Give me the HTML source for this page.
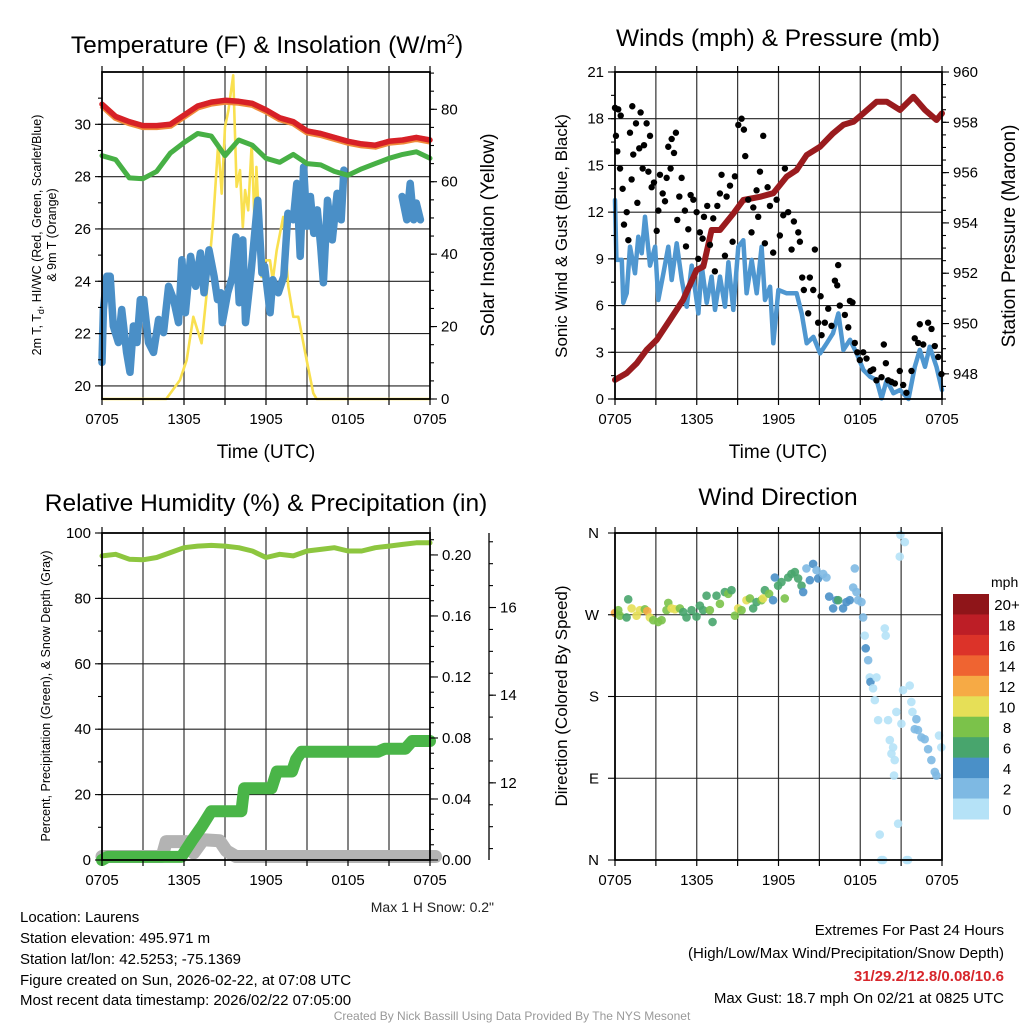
<!DOCTYPE html>
<html><head><meta charset="utf-8"><style>
html,body{margin:0;padding:0;background:#fff;}
svg{display:block;font-family:"Liberation Sans",Arial,sans-serif;}
</style></head><body>
<svg id="fig" width="1024" height="1024" viewBox="0 0 1024 1024" xmlns="http://www.w3.org/2000/svg">
<rect width="1024" height="1024" fill="#fff"/>
<g id="layer"></g>
<text x="267" y="53" font-size="24.5" text-anchor="middle">Temperature (F) &amp; Insolation (W/m<tspan dy="-9" font-size="15">2</tspan><tspan dy="9">)</tspan></text>
<text x="778" y="46" font-size="24.5" text-anchor="middle">Winds (mph) &amp; Pressure (mb)</text>
<text x="266" y="511" font-size="24.5" text-anchor="middle">Relative Humidity (%) &amp; Precipitation (in)</text>
<text x="778" y="505" font-size="24.5" text-anchor="middle">Wind Direction</text>
<text transform="translate(41,235) rotate(-90)" font-size="12.5" text-anchor="middle">2m T, T<tspan font-size="9" dy="3">d</tspan><tspan dy="-3">, HI/WC (Red, Green, Scarlet/Blue)</tspan></text>
<text transform="translate(56,235) rotate(-90)" font-size="12.5" text-anchor="middle">&amp; 9m T (Orange)</text>
<text transform="translate(494,235) rotate(-90)" font-size="19" text-anchor="middle">Solar Insolation (Yellow)</text>
<text x="266" y="458" font-size="19" text-anchor="middle">Time (UTC)</text>
<text x="778" y="458" font-size="19" text-anchor="middle">Time (UTC)</text>
<text transform="translate(567,236) rotate(-90)" font-size="17" text-anchor="middle">Sonic Wind &amp; Gust (Blue, Black)</text>
<text transform="translate(1015,236) rotate(-90)" font-size="19" text-anchor="middle">Station Pressure (Maroon)</text>
<text transform="translate(50,696) rotate(-90)" font-size="12.5" text-anchor="middle">Percent, Precipitation (Green), &amp; Snow Depth (Gray)</text>
<text transform="translate(567,696) rotate(-90)" font-size="17" text-anchor="middle">Direction (Colored By Speed)</text>
<text x="494" y="912" font-size="14" text-anchor="end" fill="#222">Max 1 H Snow: 0.2"</text>
<g font-size="15" fill="#000">
<text x="20" y="922">Location: Laurens</text>
<text x="20" y="943">Station elevation: 495.971 m</text>
<text x="20" y="964">Station lat/lon: 42.5253; -75.1369</text>
<text x="20" y="985">Figure created on Sun, 2026-02-22, at 07:08 UTC</text>
<text x="20" y="1005">Most recent data timestamp: 2026/02/22 07:05:00</text>
</g>
<g font-size="15" text-anchor="end">
<text x="1004" y="935">Extremes For Past 24 Hours</text>
<text x="1004" y="958">(High/Low/Max Wind/Precipitation/Snow Depth)</text>
<text x="1004" y="981" fill="#d7262b" font-weight="bold">31/29.2/12.8/0.08/10.6</text>
<text x="1004" y="1003">Max Gust: 18.7 mph On 02/21 at 0825 UTC</text>
</g>
<text x="512" y="1020" font-size="12" fill="#999" text-anchor="middle">Created By Nick Bassill Using Data Provided By The NYS Mesonet</text>
</svg>
<script>
// ---------- data ----------
const xTickLabels = ["0705","1305","1905","0105","0705"];
const hourlyTimes = [0,1,2,3,4,5,6,7,8,9,10,11,12,13,14,15,16,17,18,19,20,21,22,23,24];
const tempRed = [30.77,30.3,30.1,29.95,29.95,30.0,30.35,30.7,30.85,30.92,30.88,30.8,30.55,30.25,30.1,29.75,29.65,29.5,29.35,29.25,29.2,29.35,29.4,29.5,29.4];
const dewGreen = [28.8,28.65,27.95,27.92,28.2,28.9,29.3,29.65,29.55,28.8,29.4,29.2,28.7,28.55,28.85,28.5,28.45,28.2,28.05,28.3,28.5,28.7,28.85,28.95,28.7];
const solarTimes = [0,4.7,5.7,6.2,6.68,7.29,7.66,8.14,8.5,8.76,9.0,9.25,9.6,9.85,10.1,10.3,10.47,10.7,10.95,11.19,11.3,11.68,11.9,12.29,12.5,12.78,13.26,13.63,14.0,14.36,14.97,15.46,15.7,24];
const solarVals = [0,0,5.2,10.8,22.7,15.4,29.2,49.4,70.5,56.7,75.1,79.7,89.4,58.6,63.2,47.5,57.7,52.1,70.5,45.7,64.1,33.7,38.3,38.3,32.8,41.1,50.3,31,22.7,22.7,10.8,1.6,0,0];
const chillTimes = [0,0.1,0.35,0.6,0.83,1.2,1.44,1.8,2.05,2.3,2.56,2.8,3.05,3.4,3.77,4.14,4.5,4.87,5.24,5.6,5.85,6.1,6.48,6.85,7.2,7.46,7.83,8.2,8.45,8.7,8.8,9.2,9.55,9.8,10.04,10.3,10.5,10.9,11.4,11.7,11.9,12.3,12.5,12.9,13.3,13.6,14.0,14.25,14.5,14.75,15.0,15.25,15.5,15.75,16.0,16.2,16.5,16.85,17.2,17.5,17.7,null,21.96,22.3,22.55,22.8,23.0,23.3];
const chillVals = [20.9,22.92,24.19,24.19,22.29,21.66,22.92,21.28,20.52,22.29,21.66,23.3,23.3,21.66,21.28,22.54,22.04,23.81,23.3,22.42,24.82,22.8,24.95,23.81,25.08,23.56,25.2,24.19,23.3,23.56,22.42,23.56,24.19,25.7,23.18,25.58,22.42,24.32,27.1,24.32,24.57,22.8,24.06,23.56,24.19,26.6,26.35,27.74,24.95,28.37,26.1,27.24,25.83,26.73,25.33,23.94,27.1,25.58,27.36,26.35,28.25,null,27.24,26.35,27.74,26.35,26.99,26.35];
const presTimes = [0,0.86,1.59,2.32,3.06,4.04,5.0,5.99,6.48,7.09,7.71,8.7,9.42,10.64,11.62,12.6,13.33,14.07,15.05,16.0,16.76,17.5,18.23,19.2,19.94,20.92,21.9,22.75,23.6,24];
const presVals = [947.76,948.03,948.42,948.95,949.35,950.15,950.94,952.13,952.26,953.72,953.72,954.38,954.91,955.04,955.18,955.84,956.1,956.7,957.03,957.56,957.9,958.02,958.36,958.82,958.82,958.49,959.02,958.49,958.09,958.36];
const windTimes = [0,0.1,0.5,0.61,0.86,1.1,1.47,1.71,1.96,2.2,2.57,2.94,3.18,3.55,3.91,4.16,4.53,4.9,5.26,5.63,6.12,6.36,6.73,7.09,7.34,7.71,8.07,8.32,8.68,9.05,9.42,9.66,10.03,10.4,10.76,11.01,11.38,11.62,11.99,12.6,13.33,13.7,14.07,14.56,15.05,15.54,16.0,16.4,16.76,17.25,17.74,18.23,18.72,19.2,19.57,19.94,20.43,20.92,21.54,22.0,22.37,22.75,23.1,23.6,24];
const windVals = [12.78,8.93,8.93,6.18,6.79,9.78,8.07,10.42,9.36,11.71,8.57,9.78,6.36,8.07,9.78,7.64,10.0,7.64,5.93,8.57,5.5,8.57,6.18,7.86,5.72,7.86,5.93,8.78,5.72,9.78,10.2,6.79,8.93,6.79,9.78,6.36,7.21,3.58,7.0,6.79,6.79,5.5,3.58,3.99,2.93,3.58,4.22,5.5,3.15,3.8,2.93,1.86,1.43,1.22,0.04,1.22,0.37,0.58,0,2.07,3.15,2.07,3.36,2.07,0.58];
const gustTimes = [0,0.24,0.42,0.07,0.17,0.37,0.56,0.66,0.86,0.98,1.22,1.1,1.27,1.34,1.54,1.64,1.78,1.88,2.03,2.13,2.32,2.45,2.57,2.69,2.86,3.06,3.18,3.3,3.5,3.67,3.79,3.91,4.08,4.16,4.33,4.47,4.57,4.72,4.89,5.13,5.21,5.38,5.55,5.75,5.99,6.11,6.23,6.43,6.53,6.77,6.97,7.21,7.33,7.51,7.7,7.82,8.07,8.19,8.44,8.63,8.8,9.05,9.29,9.46,9.56,9.78,10.02,10.15,10.39,10.51,10.64,10.88,11.0,11.2,11.37,11.61,11.86,12.1,12.35,12.47,12.71,12.96,13.13,13.45,13.57,13.74,13.86,14.18,14.3,14.55,14.67,14.91,15.09,15.16,15.4,15.65,15.89,16.14,16.31,16.38,16.5,16.87,17.12,17.24,17.43,17.6,17.78,17.97,18.22,18.46,18.75,18.95,19.19,19.56,19.73,19.88,20.05,20.29,20.54,20.9,21.15,21.39,21.76,22.0,22.25,22.37,22.62,22.98,23.23,23.47,23.72,23.96];
const gustVals = [18.7,18.6,18.2,16.9,15.9,14.8,13.5,11.2,12.0,10.2,14.1,17.1,18.8,15.7,17.7,12.6,16.1,18.4,14.8,16.3,17.7,14.6,16.9,13.6,13.9,10.8,12.1,14.4,13.2,12.7,14.2,16.2,14.8,16.7,15.8,17.1,11.5,13.0,14.2,12.1,9.8,10.9,13.1,12.8,12.0,9.0,10.7,10.3,11.7,12.4,9.9,11.6,8.2,12.4,13.2,14.4,9.2,13.0,13.7,10.1,14.3,17.6,18.0,17.3,15.6,12.8,10.7,12.3,13.4,11.7,14.6,16.9,10.0,13.6,12.4,9.4,12.8,10.5,11.8,14.8,12.0,9.6,11.4,10.7,10.1,7.8,7.0,5.5,7.8,7.0,9.6,4.9,6.6,4.1,4.9,5.8,4.7,7.6,7.3,8.6,6.0,5.4,4.6,6.3,6.2,3.6,3.0,2.5,3.0,2.6,1.8,1.9,1.2,1.4,3.5,2.3,1.2,1.1,1.0,1.8,0.9,0.4,1.8,3.9,3.6,4.8,3.5,4.9,4.5,3.4,2.7,1.6];
const rhVals = [93,93.5,92,91.8,92.5,94,95.5,96,96.2,96,95.5,94.5,92.5,93.5,93,94.5,95,95.5,94.5,94.5,95.5,96,96.5,97,97];
const precipTimes = [0,0.4,5.8,6.6,7.3,8.0,10.2,10.4,12.4,12.8,13.9,14.2,14.6,20.2,20.7,22.2,22.7,24];
const precipVals = [0,0.002,0.002,0.013,0.022,0.032,0.032,0.047,0.047,0.058,0.058,0.066,0.071,0.071,0.073,0.073,0.078,0.078];
const snowTimes = [0,4.4,4.7,6.2,6.7,7.4,8.6,9.1,9.8,24.4];
const snowVals = [10.32,10.32,10.66,10.66,10.4,10.7,10.68,10.45,10.32,10.32];
const dirTimes = [0,0.24,0.36,0.97,0.85,1.22,1.58,1.83,2.19,2.37,2.56,2.81,3.17,3.42,3.78,3.91,4.15,4.4,4.76,5.01,5.25,5.62,5.98,6.23,6.47,6.72,6.96,7.16,7.45,7.7,8.06,8.31,8.55,8.8,9.04,9.29,9.65,9.9,10.14,10.39,10.75,10.87,11.0,11.31,11.6,11.73,11.97,12.22,12.46,12.71,12.95,13.2,13.44,13.69,13.81,14.05,14.3,14.54,14.79,14.91,15.28,15.52,15.72,16.01,16.25,16.38,16.74,16.99,17.23,17.48,17.6,17.72,17.84,18.09,18.21,18.33,18.4,18.58,18.7,18.75,18.94,19.07,19.19,19.31,19.8,19.87,20.04,20.17,20.29,20.41,20.48,20.53,20.65,20.78,20.9,20.95,21.02,21.14,21.27,21.39,21.51,21.63,21.75,21.83,22.0,22.12,22.24,22.49,22.73,22.98,23.22,23.47,23.59,23.78,23.95,19.43,19.55,19.68];
const dirVals = [272,275,269,287,267,277,269,275,276,274,267,264,262,264,275,283,277,276,277,273,267,275,268,280,275,291,275,262,291,282,295,293,297,269,277,275,286,288,277,284,286,288,297,293,286,311,302,306,288,311,315,317,310,302,295,321,308,326,319,310,315,311,290,277,286,286,277,284,286,300,321,295,286,284,267,247,233,220,201,196,189,176,201,154,255,247,154,132,117,124,93,110,163,40,334,358,150,187,350,0,0,192,174,163,144,155,143,135,133,122,110,97,93,137,124,28,0,0];
const dirSpeeds = [13,9,8,6,6,10,10,10,9,12,10,8,8,8,8,8,10,10,8,6,6,7,6,7,6,6,8,6,7,8,7,8,6,8,10,9,10,8,7,7,8,10,6,9,4,5,6,7,8,6,6,6,6,7,4,3,4,4,2,4,2,2,4,4,5,6,4,4,4,3,3,2,3,2,2,1,4,2,1,4,1,1,1,1,1,1,1,1,1,1,1,1,1,1,1,1,1,1,1,1,1,1,1,1,3,3,3,3,3,3,3,3,3,1,1,1,1,1];
const speedBinLabels = ["20+","18","16","14","12","10","8","6","4","2","0"];
const speedBinColors = ["#8f1519","#bd1e26","#dc3329","#ef6431","#f6aa45","#e6df57","#7bc24a","#48a56d","#4a90c8","#7eb9e3","#b5e2f7"];

// ---------- helpers ----------
const NS = "http://www.w3.org/2000/svg";
const layer = document.getElementById("layer");
function mk(tag, attrs, parent){ const e=document.createElementNS(NS,tag); for(const k in attrs) e.setAttribute(k,attrs[k]); (parent||layer).appendChild(e); return e; }
function lin(d0,d1,r0,r1){ return v=>r0+(v-d0)*(r1-r0)/(d1-d0); }
function pathFrom(ts, vs, sx, sy){ let d="", pen=false; for(let i=0;i<ts.length;i++){ if(ts[i]===null||vs[i]===null){pen=false;continue;} d+=(pen?"L":"M")+sx(ts[i]).toFixed(1)+","+sy(vs[i]).toFixed(1); pen=true; } return d; }
function stepPath(ts, vs, sx, sy){ let d=""; for(let i=0;i<ts.length;i++){ d+=(i?"L":"M")+sx(ts[i]).toFixed(1)+","+sy(vs[i]).toFixed(1); } return d; }

function frame(x0,x1,y0,y1,name){
  const g=mk("g",{});
  
  
  for(let h=3;h<24;h+=3){ const sx=lin(0,24,x0,x1); mk("line",{x1:sx(h),x2:sx(h),y1:y0,y2:y1,stroke:"#333","stroke-width":1.2},g); }
  return g;
}
function hgrid(g,x0,x1,ys){ ys.forEach(y=>mk("line",{x1:x0,x2:x1,y1:y,y2:y,stroke:"#222","stroke-width":1.1},g)); }
function box(x0,x1,y0,y1,name){
  const r=mk("rect",{x:x0,y:y0,width:x1-x0,height:y1-y0,fill:"none",stroke:"#000","stroke-width":1.8});
  
  
  const sx=lin(0,24,x0,x1);
  for(let h=0;h<=24;h+=3){ mk("line",{x1:sx(h),x2:sx(h),y1:y1,y2:y1+6,stroke:"#000","stroke-width":1.2}); mk("line",{x1:sx(h),x2:sx(h),y1:y0,y2:y0-6,stroke:"#000","stroke-width":1.2}); }
  for(let i=0;i<xTickLabels.length;i++){
    const t=mk("text",{x:sx(i*6),y:y1+25,"font-size":15,"text-anchor":"middle"});
    
    
    t.textContent=xTickLabels[i];
  }
}
function yTicks(x, sy, vals, labelFn, side, len, name, fs){
  vals.forEach(v=>{
    const y=sy(v); const dir=side==="left"?-1:1;
    mk("line",{x1:x,x2:x+dir*len,y1:y,y2:y,stroke:"#000","stroke-width":1.1});
    if(labelFn){ const t=mk("text",{x:x+dir*(len+4),y:y+5,"font-size":fs||15,"text-anchor":side==="left"?"end":"start"});
      
      
      t.textContent=labelFn(v); }
  });
}
function range(a,b,s){ const r=[]; for(let v=a;v<=b+1e-9;v+=s) r.push(+v.toFixed(4)); return r; }

// ---------- panel 1 ----------
(function(){
  const x0=102,x1=430,y0=72,y1=399;
  const sx=lin(0,24,x0,x1), sy=lin(19.5,32,y1,y0), ss=lin(0,90.3,y1,y0);
  const g=frame(x0,x1,y0,y1,"temperature");
  hgrid(g,x0,x1,range(20,30,2).map(sy));
  const yel=mk("path",{d:pathFrom(solarTimes,solarVals,sx,ss),fill:"none",stroke:"#f9e04f","stroke-width":2.6,"stroke-linejoin":"round"});
  
  
  const bl=mk("path",{d:pathFrom(chillTimes,chillVals,sx,sy),fill:"none",stroke:"#4a8fc7","stroke-width":7.5,"stroke-linejoin":"round","stroke-linecap":"round"});
  
  
  const gr=mk("path",{d:pathFrom(hourlyTimes,dewGreen,sx,sy),fill:"none",stroke:"#47b045","stroke-width":5,"stroke-linejoin":"round","stroke-linecap":"round"});
  
  
  const or=mk("path",{d:pathFrom(hourlyTimes,tempRed,sx,sy),fill:"none",stroke:"#f08a3a","stroke-width":7,"stroke-linejoin":"round",transform:"translate(0,1)"});
  
  
  const rd=mk("path",{d:pathFrom(hourlyTimes,tempRed,sx,sy),fill:"none",stroke:"#d72027","stroke-width":5.5,"stroke-linejoin":"round","stroke-linecap":"round"});
  
  
  box(x0,x1,y0,y1,"temperature");
  yTicks(x0,sy,range(20,30,2),v=>v,"left",7,"temperature-y-tick-label");
  yTicks(x0,sy,range(20,31,1),null,"left",4);
  yTicks(x1,ss,range(0,80,20),v=>v,"right",7,"solar-y-tick-label");
  yTicks(x1,ss,range(0,90,5),null,"right",4);
})();

// ---------- panel 2 ----------
(function(){
  const x0=615,x1=942,y0=72,y1=399;
  const sx=lin(0,24,x0,x1), sy=lin(0,21,y1,y0), sp=lin(947,960,y1,y0);
  const g=frame(x0,x1,y0,y1,"winds");
  hgrid(g,x0,x1,range(3,18,3).map(sy));
  const bl=mk("path",{d:pathFrom(windTimes,windVals,sx,sy),fill:"none",stroke:"#4f97d0","stroke-width":4.5,"stroke-linejoin":"round","stroke-linecap":"round"});
  
  
  const mr=mk("path",{d:pathFrom(presTimes,presVals,sx,sp),fill:"none",stroke:"#9a1b1e","stroke-width":6,"stroke-linejoin":"round","stroke-linecap":"round"});
  
  
  for(let i=0;i<gustTimes.length;i++){
    const c=mk("circle",{cx:sx(gustTimes[i]),cy:sy(gustVals[i]),r:3.2,fill:"#000"});
    
    
  }
  box(x0,x1,y0,y1,"winds");
  yTicks(x0,sy,range(0,21,3),v=>v,"left",7,"wind-y-tick-label");
  yTicks(x0,sy,range(0,21,1.5),null,"left",4);
  yTicks(x1,sp,range(948,960,2),v=>v,"right",7,"pressure-y-tick-label");
  yTicks(x1,sp,range(947,960,0.5),null,"right",4);
})();

// ---------- panel 3 ----------
(function(){
  const x0=102,x1=430,y0=533,y1=860;
  const sx=lin(0,24,x0,x1), sy=lin(0,100,y1,y0), spr=lin(0,0.2144,y1,y0), ssn=lin(10.24,17.7,y1,y0);
  const g=frame(x0,x1,y0,y1,"humidity");
  hgrid(g,x0,x1,range(20,80,20).map(sy));
  const sn=mk("path",{d:stepPath(snowTimes,snowVals,sx,ssn),fill:"none",stroke:"#b3b3b3","stroke-width":13,"stroke-linejoin":"round","stroke-linecap":"round"});
  
  
  const pr=mk("path",{d:stepPath(precipTimes,precipVals,sx,spr),fill:"none",stroke:"#4ab548","stroke-width":12,"stroke-linejoin":"round","stroke-linecap":"round"});
  
  
  const rh=mk("path",{d:pathFrom(hourlyTimes,rhVals,sx,sy),fill:"none",stroke:"#8dc63f","stroke-width":5,"stroke-linejoin":"round","stroke-linecap":"round"});
  
  
  box(x0,x1,y0,y1,"humidity");
  yTicks(x0,sy,range(0,100,20),v=>v,"left",7,"humidity-y-tick-label");
  yTicks(x0,sy,range(0,100,10),null,"left",4);
  yTicks(x1,spr,range(0,0.2,0.04),v=>v.toFixed(2),"right",8,"precip-y-tick-label");
  yTicks(x1,spr,range(0,0.21,0.01),null,"right",4);
  const ax=mk("line",{x1:489,x2:489,y1:y0,y2:y1,stroke:"#000","stroke-width":1.3});
  
  
  yTicks(489,ssn,range(12,16,2),v=>v,"right",7,"snow-y-tick-label");
  yTicks(489,ssn,range(10.5,17.5,0.5),null,"right",4);
})();

// ---------- panel 4 ----------
(function(){
  const x0=615,x1=942,y0=533,y1=860;
  const sx=lin(0,24,x0,x1), sy=lin(0,360,y1,y0);
  const g=frame(x0,x1,y0,y1,"direction");
  hgrid(g,x0,x1,[90,180,270].map(sy));
  for(let i=0;i<dirTimes.length;i++){
    const bin=Math.min(10,Math.floor(dirSpeeds[i]/2));
    const c=mk("circle",{cx:sx(dirTimes[i]),cy:sy(dirVals[i]),r:4.3,fill:speedBinColors[10-bin],"fill-opacity":0.9});
    
    
  }
  box(x0,x1,y0,y1,"direction");
  const lbl=["N","E","S","W","N"];
  [0,90,180,270,360].forEach((v,i)=>{
    mk("line",{x1:x0,x2:x0-7,y1:sy(v),y2:sy(v),stroke:"#000","stroke-width":1.1});
    const t=mk("text",{x:x0-16,y:sy(v)+5,"font-size":15,"text-anchor":"end"});
    
    
    t.textContent=lbl[i];
  });
  const lg=mk("g",{});
  
  
  const t0=mk("text",{x:991,y:587,"font-size":14},lg); t0.textContent="mph";
  
  
  const bh=(819-594)/11;
  for(let i=0;i<11;i++){
    const r=mk("rect",{x:953,y:594+i*bh,width:36,height:bh+0.5,fill:speedBinColors[i]},lg);
    
    
    const t=mk("text",{x:1007,y:594+i*bh+bh/2+6,"font-size":15,"text-anchor":"middle"},lg);
    
    
    t.textContent=speedBinLabels[i];
  }
})();
</script>
</body></html>
